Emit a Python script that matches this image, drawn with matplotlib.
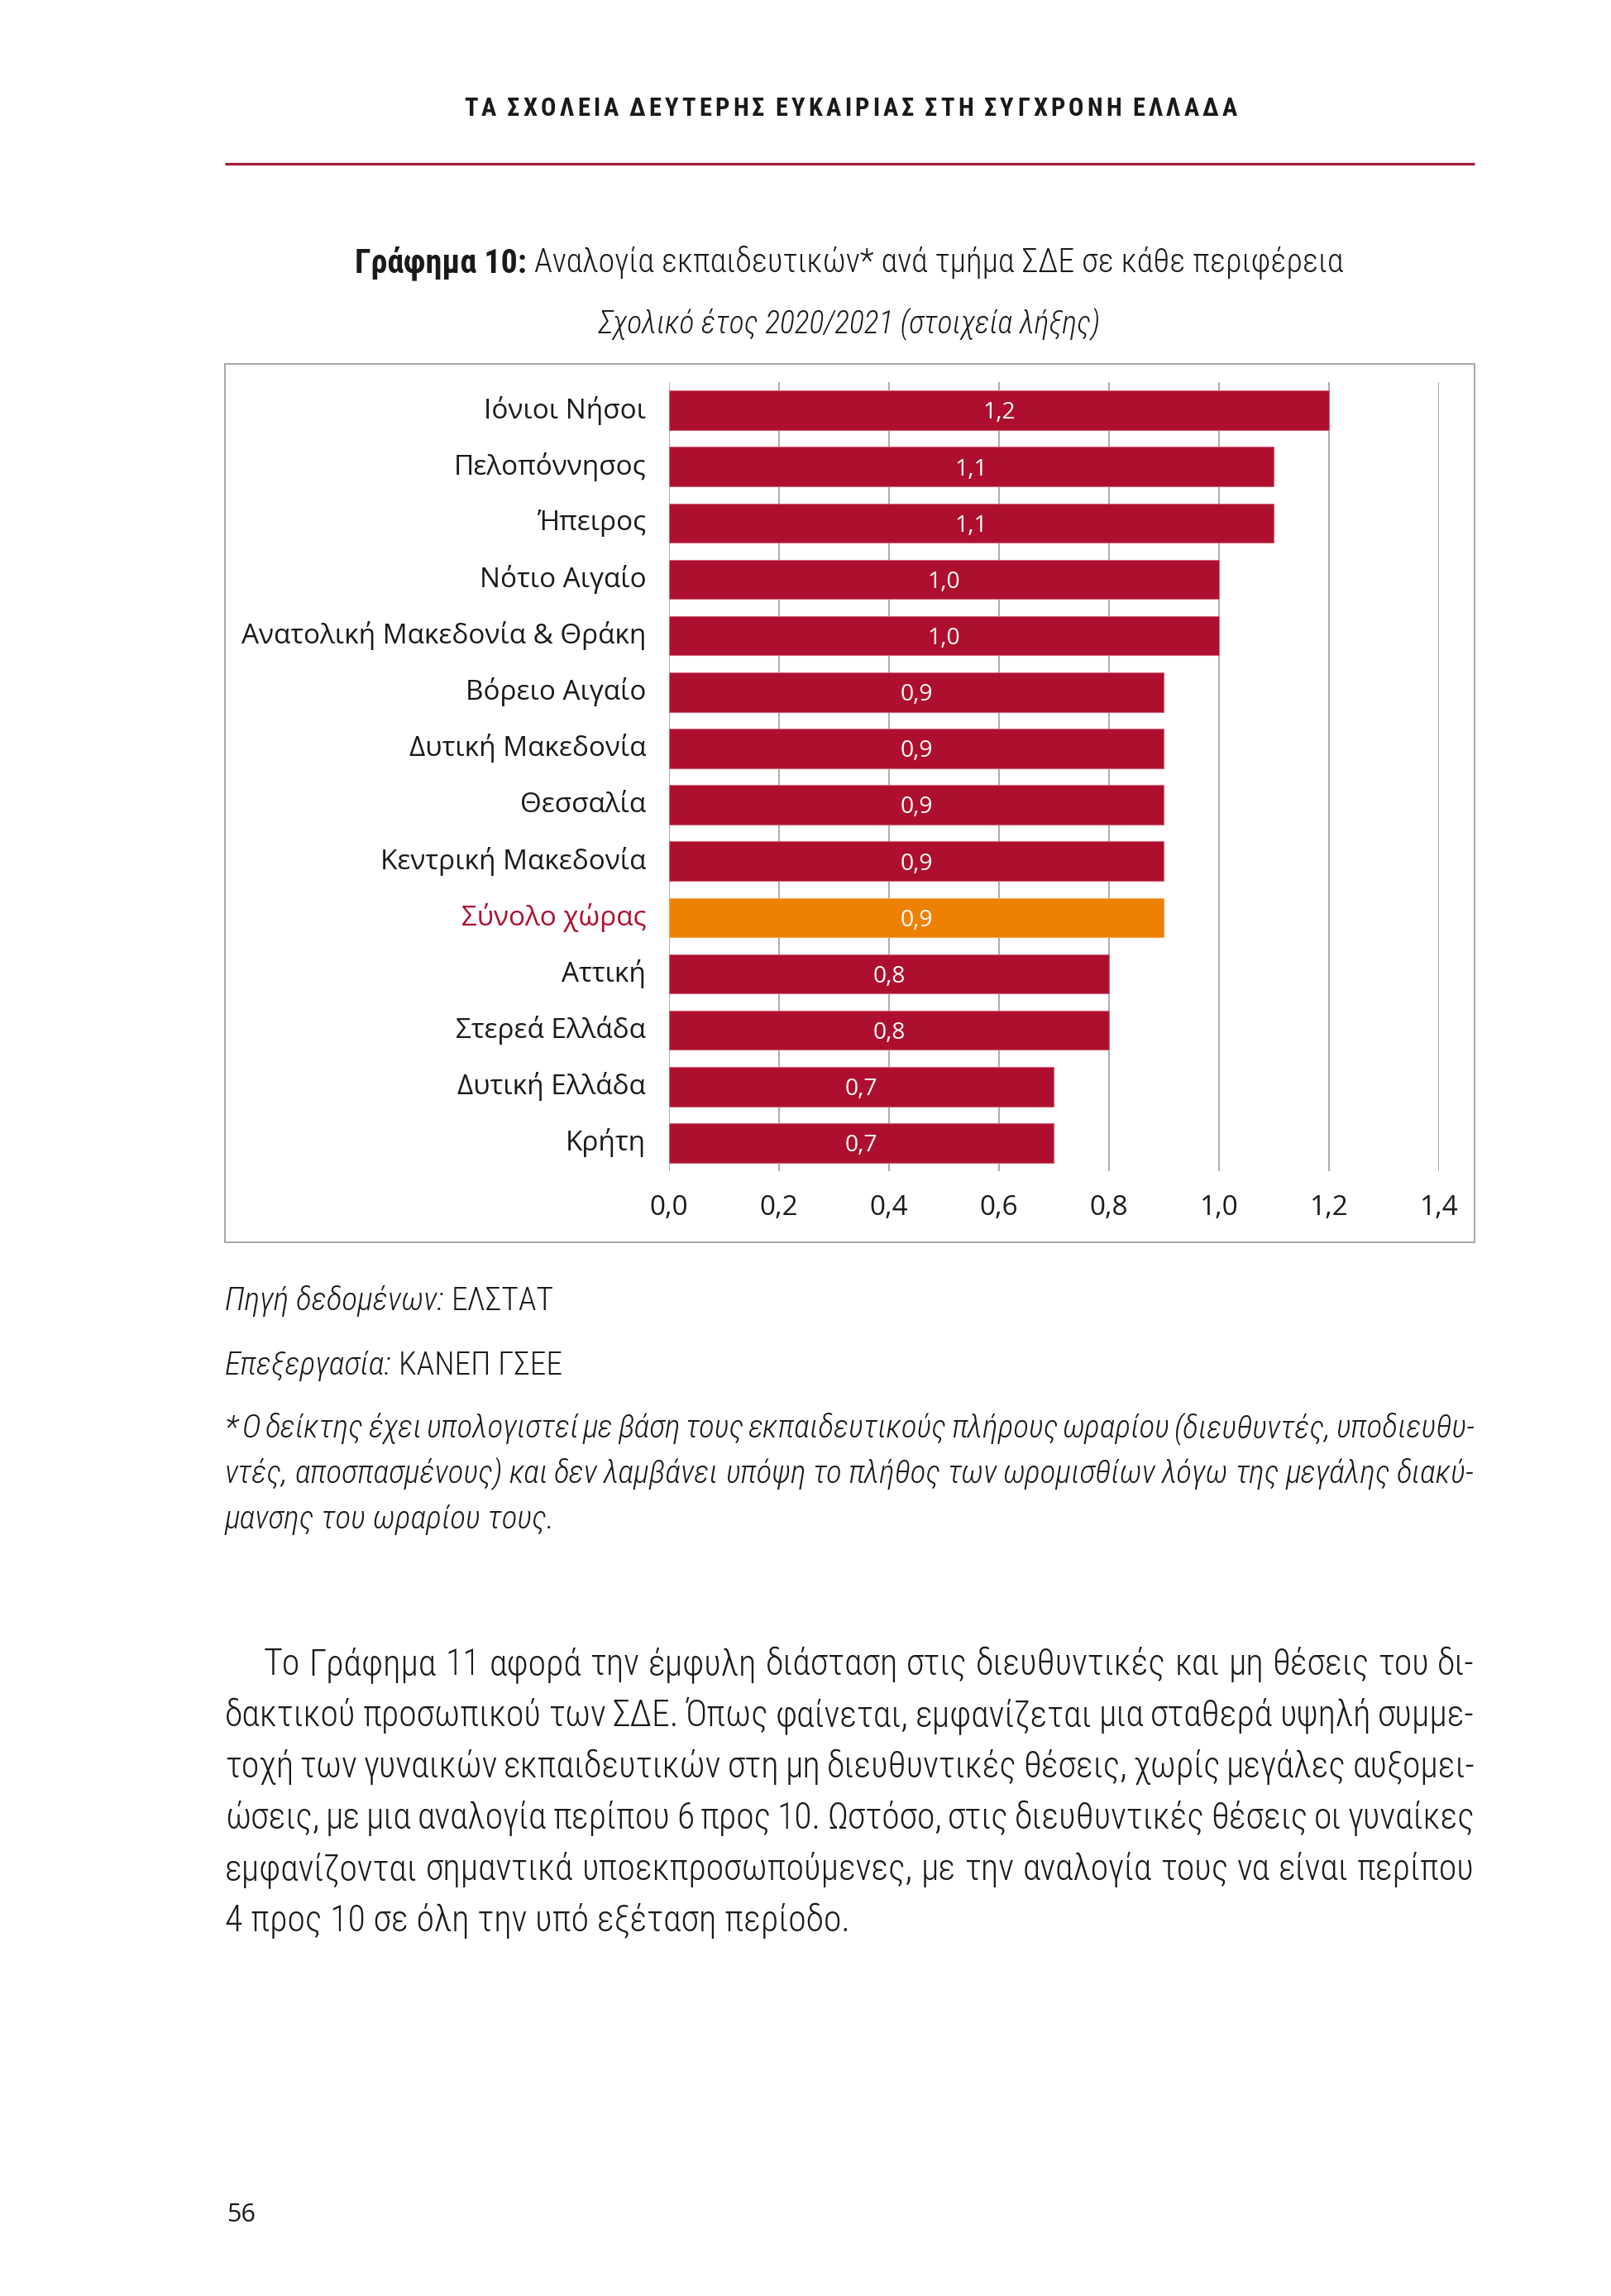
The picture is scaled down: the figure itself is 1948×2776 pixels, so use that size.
import matplotlib
matplotlib.use("Agg")
import matplotlib.pyplot as plt
import numpy as np
from matplotlib import font_manager
from matplotlib.patches import Rectangle
from matplotlib.lines import Line2D
from matplotlib.transforms import IdentityTransform, ScaledTranslation
from matplotlib.ticker import FuncFormatter

# ---- data ----
regions = ["Ιόνιοι Νήσοι", "Πελοπόννησος", "Ήπειρος", "Νότιο Αιγαίο",
           "Ανατολική Μακεδονία & Θράκη", "Βόρειο Αιγαίο", "Δυτική Μακεδονία",
           "Θεσσαλία", "Κεντρική Μακεδονία", "Σύνολο χώρας", "Αττική",
           "Στερεά Ελλάδα", "Δυτική Ελλάδα", "Κρήτη"]
ratios = [1.2, 1.1, 1.1, 1.0, 1.0, 0.9, 0.9, 0.9, 0.9, 0.9, 0.8, 0.8, 0.7, 0.7]
total_label = "Σύνολο χώρας"
x_ticks = [0.0, 0.2, 0.4, 0.6, 0.8, 1.0, 1.2, 1.4]

running_head = "ΤΑ ΣΧΟΛΕΙΑ ΔΕΥΤΕΡΗΣ ΕΥΚΑΙΡΙΑΣ ΣΤΗ ΣΥΓΧΡΟΝΗ ΕΛΛΑΔΑ"
title_bold = "Γράφημα 10:"
title_rest = "Αναλογία εκπαιδευτικών* ανά τμήμα ΣΔΕ σε κάθε περιφέρεια"
subtitle = "Σχολικό έτος 2020/2021 (στοιχεία λήξης)"
source = ["Πηγή δεδομένων:", "ΕΛΣΤΑΤ"]
processing = ["Επεξεργασία:", "ΚΑΝΕΠ ΓΣΕΕ"]
footnote = [
    "* Ο δείκτης έχει υπολογιστεί με βάση τους εκπαιδευτικούς πλήρους ωραρίου (διευθυντές, υποδιευθυ-",
    "ντές, αποσπασμένους) και δεν λαμβάνει υπόψη το πλήθος των ωρομισθίων λόγω της μεγάλης διακύ-",
    "μανσης του ωραρίου τους.",
]
body = [
    "Το Γράφημα 11 αφορά την έμφυλη διάσταση στις διευθυντικές και μη θέσεις του δι-",
    "δακτικού προσωπικού των ΣΔΕ. Όπως φαίνεται, εμφανίζεται μια σταθερά υψηλή συμμε-",
    "τοχή των γυναικών εκπαιδευτικών στη μη διευθυντικές θέσεις, χωρίς μεγάλες αυξομει-",
    "ώσεις, με μια αναλογία περίπου 6 προς 10. Ωστόσο, στις διευθυντικές θέσεις οι γυναίκες",
    "εμφανίζονται σημαντικά υποεκπροσωπούμενες, με την αναλογία τους να είναι περίπου",
    "4 προς 10 σε όλη την υπό εξέταση περίοδο.",
]
page_no = "56"

CRIMSON = "#af0f2e"
ORANGE = "#ee8104"
GREY = "#a6a6a6"
INK = "#1a1a1a"

# ---- fonts: look for a condensed face for the book text ----
fonts = font_manager.fontManager.ttflist
names = {f.name for f in fonts}
COND = None
for n in ["Liberation Sans Narrow", "Roboto Condensed", "Noto Sans Condensed", "Open Sans Condensed"]:
    if n in names:
        COND = {"family": n}
        break
if COND is None:
    for n in ["Noto Sans", "Roboto", "Open Sans", "DejaVu Sans"]:
        if any(f.name == n and f.stretch == "condensed" for f in fonts):
            COND = {"family": n, "stretch": "condensed"}
            break
if COND is None:
    COND = {"family": "Roboto"}
CHART = ["Open Sans", "DejaVu Sans"]

W, H = 1949, 2776
fig = plt.figure(figsize=(W / 100, H / 100), dpi=100)
renderer = fig.canvas.get_renderer()
pix = IdentityTransform()


def put(x, y, s, **kw):
    # x, y in pixels from the top-left corner of the page
    return fig.text(x, H - y, s, transform=pix, color=kw.pop("color", INK), **kw)


def width(s, **kw):
    t = put(0, 0, s, **kw)
    w = t.get_window_extent(renderer).width
    t.remove()
    return w


def space(**kw):
    return width("a a", **kw) - width("aa", **kw)


def fit(target, s, base=30, **kw):
    return base * target / width(s, size=base, **kw)


def mixed_width(parts, size):
    ws = [width(s, size=size, **kw) for s, kw in parts]
    gap = space(size=size, **parts[-1][1])
    return ws, gap, sum(ws) + gap * (len(parts) - 1)


def mixed(x, y, parts, size, ha="left"):
    # parts: list of (text, style) set one after the other on a line
    ws, gap, total = mixed_width(parts, size)
    if ha == "center":
        x -= total / 2
    for (s, kw), w in zip(parts, ws):
        put(x, y, s, size=size, va="baseline", **kw)
        x += w + gap


def justify(line, x0, x1, y, **kw):
    words = line.split(" ")
    ws = [width(w, **kw) for w in words]
    gap = (x1 - x0 - sum(ws)) / (len(words) - 1)
    x = x0
    for w, wd in zip(words, ws):
        put(x, y, w, va="baseline", **kw)
        x += wd + gap


def tracked(s, x0, x1, y, word_gap=3.0, **kw):
    # letter-spaced running head spread between x0 and x1
    words = s.split(" ")
    chars = [c for w in words for c in w]
    ws = [width(c, **kw) for c in chars]
    units = sum(len(w) - 1 for w in words) + word_gap * (len(words) - 1)
    unit = (x1 - x0 - sum(ws)) / units
    x, k = x0, 0
    for w in words:
        for ci, c in enumerate(w):
            put(x, y, c, va="baseline", **kw)
            x += ws[k] + (unit if ci < len(w) - 1 else 0)
            k += 1
        x += unit * word_gap


# ---- running head and rule ----
tracked(running_head, 561, 1496, 140, size=22, weight="bold", **COND)
fig.add_artist(Line2D([272, 1783], [H - 198, H - 198], transform=pix,
                      color="#a51c40", lw=2.3, solid_capstyle="butt"))

# ---- chart title ----
t_parts = [(title_bold, dict(weight="bold", **COND)),
           (title_rest, dict(weight="light", **COND))]
ts = 30 * 1195 / mixed_width(t_parts, 30)[2]
mixed(1027, 329, t_parts, ts, ha="center")
sub_kw = dict(style="italic", weight="light", **COND)
ss = fit(607, subtitle, **sub_kw)
put(1027, 403, subtitle, size=ss, ha="center", va="baseline", **sub_kw)

# ---- chart frame and axes ----
fig.add_artist(Rectangle((272, H - 1502), 1783 - 272, 1502 - 440, transform=pix,
                         fill=False, edgecolor=GREY, lw=1.4))

x0, x1, ytop, ybot = 809, 1740, 462, 1416
ax = fig.add_axes([x0 / W, (H - ybot) / H, (x1 - x0) / W, (ybot - ytop) / H])

cat_size = fit(489, "Ανατολική Μακεδονία & Θράκη", family=CHART)
val_size = cat_size * 0.85

ypos = np.arange(len(regions))
colors = [ORANGE if r == total_label else CRIMSON for r in regions]
edges = ["#f4a450" if r == total_label else "#d0637a" for r in regions]
ax.barh(ypos, ratios, height=0.7, color=colors, edgecolor=edges, linewidth=0.8, zorder=3)
for y, v in zip(ypos, ratios):
    ax.text(v / 2, y + 0.05, f"{v:.1f}".replace(".", ","), ha="center", va="center",
            color="white", fontsize=val_size, family=CHART, zorder=4)

ax.set_xlim(0, 1.4)
ax.set_ylim(len(regions) - 0.5, -0.5)
ax.set_xticks(x_ticks)
ax.xaxis.set_major_formatter(FuncFormatter(lambda v, p: f"{v:.1f}".replace(".", ",")))
ax.set_yticks(ypos)
ax.set_yticklabels(regions)
ax.tick_params(axis="y", length=0, pad=20, labelsize=cat_size, labelcolor=INK)
ax.tick_params(axis="x", length=0, pad=20, labelsize=cat_size, labelcolor=INK)
lift = ScaledTranslation(0, 4 / 100, fig.dpi_scale_trans)
for lab in ax.get_xticklabels() + ax.get_yticklabels():
    lab.set_family(CHART)
    if lab.get_text() == total_label:
        lab.set_color(CRIMSON)
for lab in ax.get_yticklabels():
    lab.set_transform(lab.get_transform() + lift)
ax.grid(axis="x", color=GREY, lw=1.3, zorder=0)
ax.set_axisbelow(True)
for sp in ax.spines.values():
    sp.set_visible(False)
ax.set_facecolor("none")

# ---- source, footnote ----
it_kw = dict(style="italic", weight="light", **COND)
up_kw = dict(weight="light", **COND)
src_size = fit(393, source[0] + " " + source[1], **it_kw)
mixed(272, 1584, [(source[0], it_kw), (source[1], up_kw)], src_size)
mixed(272, 1662, [(processing[0], it_kw), (processing[1], up_kw)], src_size)

fn_size = fit(399, footnote[-1], **it_kw)
for i, line in enumerate(footnote):
    y = 1738 + 55 * i
    if i < len(footnote) - 1:
        justify(line, 272, 1783, y, size=fn_size, **it_kw)
    else:
        put(272, y, line, size=fn_size, va="baseline", **it_kw)

# ---- body paragraph ----
bd_size = fit(756, body[-1], **up_kw)
for i, line in enumerate(body):
    y = 2025 + 62 * i
    left = 319 if i == 0 else 272
    if i < len(body) - 1:
        justify(line, left, 1783, y, size=bd_size, **up_kw)
    else:
        put(left, y, line, size=bd_size, va="baseline", **up_kw)

put(274, 2686, page_no, size=22, va="baseline", family=CHART)

fig.savefig("out.png", dpi=100)
